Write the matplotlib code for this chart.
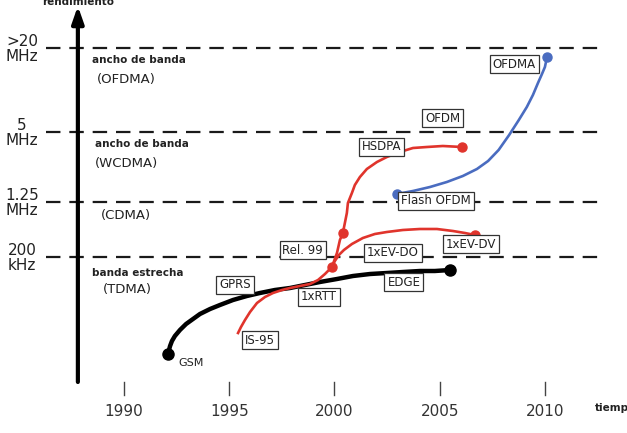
import matplotlib
matplotlib.use("Agg")
import matplotlib.pyplot as plt

# --- datos (x = año, y = rendimiento en unidades relativas) ---
gsm_x = [1992.09, 1992.14, 1992.19, 1992.28, 1992.42, 1992.66, 1992.95, 1993.28,
         1993.61, 1994.09, 1994.56, 1995.18, 1995.84, 1996.46, 1997.17, 1997.89,
         1998.60, 1999.31, 2000.12, 2000.88, 2001.69, 2002.49, 2003.25, 2004.06,
         2004.77, 2005.49]
gsm_y = [28, 32, 36, 41, 46, 52, 58, 63, 68, 73, 77, 82, 86, 89, 92, 94, 97, 100,
         103, 106, 108, 109, 110, 111, 111, 112]

is95_x = [1995.42, 1995.56, 1995.75, 1995.99, 1996.32, 1996.70, 1997.08, 1997.51,
          1997.89, 1998.36, 1998.84, 1999.22, 1999.55, 1999.88, 2000.12, 2000.26,
          2000.40, 2000.59, 2000.64, 2000.83, 2000.97, 2001.21, 2001.54, 2002.02,
          2002.49, 2003.11, 2003.73, 2004.39, 2005.15, 2006.06]
is95_y = [49, 55, 62, 70, 79, 85, 89, 92, 94, 96, 98, 102, 108, 115, 129, 142, 149,
          169, 179, 189, 197, 205, 213, 220, 225, 230, 234, 235, 236, 235]

evdo_x = [1999.88, 2000.02, 2000.21, 2000.45, 2000.83, 2001.35, 2001.92, 2002.49,
          2003.25, 2004.06, 2004.87, 2005.63, 2006.20, 2006.67]
evdo_y = [115, 121, 127, 132, 138, 144, 148, 150, 152, 153, 153, 151, 149, 147]

ofdm_x = [2002.97, 2003.73, 2004.54, 2005.34, 2006.10, 2006.77, 2007.30, 2007.80,
          2008.30, 2008.76, 2009.14, 2009.43, 2009.67, 2009.86, 2010.0, 2010.10]
ofdm_y = [188, 191, 195, 200, 206, 213, 221, 232, 247, 262, 275, 287, 299, 308, 315, 325]

red_dots_x = [1999.88, 2000.40, 2006.06, 2006.67]
red_dots_y = [115, 149, 235, 147]

niveles = [334, 250, 180, 125]
niveles_txt = [">20\nMHz", "5\nMHz", "1.25\nMHz", "200\nkHz"]

anios = [1990, 1995, 2000, 2005, 2010]

# etiquetas en cajas: (texto, x, y)
etiquetas = [("OFDMA", 2008.55, 318), ("OFDM", 2005.15, 264), ("HSDPA", 2002.25, 235),
             ("Flash OFDM", 2004.84, 181), ("Rel. 99", 1998.50, 132),
             ("1xEV-DO", 2002.78, 129), ("1xEV-DV", 2006.49, 138),
             ("EDGE", 2003.30, 100), ("1xRTT", 1999.26, 85), ("GPRS", 1995.27, 97),
             ("IS-95", 1996.46, 42)]

rojo = "#e0342c"
azul = "#4a6cc0"

fig = plt.figure(figsize=(6.27, 4.33), dpi=100)
ax = fig.add_axes([0, 0, 1, 1])
ax.set_xlim(1984.11, 2013.90)
ax.set_ylim(-51, 382)
ax.axis("off")

# lineas discontinuas de ancho de banda
for n, t in zip(niveles, niveles_txt):
	ax.plot([1986.29, 2012.76], [n, n], color="#1a1a1a", lw=1.6, dashes=(6.5, 4))
	ax.text(1985.15, n - 1, t, ha="center", va="center", fontsize=11,
			color="#222222", linespacing=1.0)

# ejes con flechas
ax.annotate("", xy=(2014.1, 0), xytext=(1986.39, 0),
			arrowprops=dict(arrowstyle="-|>,head_length=1.0,head_width=0.35",
							lw=3, color="black", shrinkA=0, shrinkB=0))
ax.annotate("", xy=(1987.81, 376), xytext=(1987.81, 0),
			arrowprops=dict(arrowstyle="-|>,head_length=1.0,head_width=0.35",
							lw=3, color="black", shrinkA=0, shrinkB=0))
for a in anios:
	ax.plot([a, a], [0, -13], color="#444444", lw=1)
	ax.text(a, -29, str(a), ha="center", va="center", fontsize=11, color="#333333")

ax.text(1987.8, 380, "rendimiento", ha="center", va="center", fontsize=7.5,
		fontweight="bold", color="#222222")
ax.text(2012.35, -26, "tiempo", ha="left", va="center", fontsize=7.5,
		fontweight="bold", color="#222222")

# textos de las regiones
ax.text(1988.5, 322, "ancho de banda", fontsize=7.5, fontweight="bold", color="#222222", va="center")
ax.text(1988.7, 303, "(OFDMA)", fontsize=9.5, color="#222222", va="center")
ax.text(1988.6, 238, "ancho de banda", fontsize=7.5, fontweight="bold", color="#222222", va="center")
ax.text(1988.6, 219, "(WCDMA)", fontsize=9.5, color="#222222", va="center")
ax.text(1988.9, 166, "(CDMA)", fontsize=9.5, color="#222222", va="center")
ax.text(1988.5, 109, "banda estrecha", fontsize=7.5, fontweight="bold", color="#222222", va="center")
ax.text(1989.0, 93, "(TDMA)", fontsize=9.5, color="#222222", va="center")

# curvas
ax.plot(gsm_x, gsm_y, color="black", lw=3.2, solid_capstyle="round",
		solid_joinstyle="round", zorder=3)
ax.plot([gsm_x[0], gsm_x[-1]], [gsm_y[0], gsm_y[-1]], "o", color="black", ms=8, zorder=4)
ax.text(1992.6, 19, "GSM", fontsize=8, color="#222222", va="center")

ax.plot(is95_x, is95_y, color=rojo, lw=1.9, solid_joinstyle="round", zorder=3)
ax.plot(evdo_x, evdo_y, color=rojo, lw=1.9, solid_joinstyle="round", zorder=3)
ax.plot(red_dots_x, red_dots_y, "o", color=rojo, ms=6.5, zorder=4)

ax.plot(ofdm_x, ofdm_y, color=azul, lw=1.9, solid_joinstyle="round", zorder=3)
ax.plot([ofdm_x[0], ofdm_x[-1]], [ofdm_y[0], ofdm_y[-1]], "o", color=azul, ms=6.5, zorder=4)

for t, x, y in etiquetas:
	ax.text(x, y, t, ha="center", va="center", fontsize=8.5, color="#222222", zorder=5,
			bbox=dict(boxstyle="square,pad=0.25", fc="white", ec="#333333", lw=0.9))

fig.savefig("out.png", dpi=100)
